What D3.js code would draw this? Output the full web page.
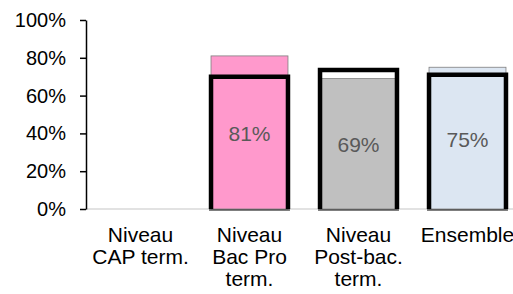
<!DOCTYPE html>
<html>
<head>
<meta charset="utf-8">
<script src="https://cdn.jsdelivr.net/npm/d3@7"></script>
<style>
  body { margin: 0; background: #fff; }
  text { font-family: "Liberation Sans", Arial, sans-serif; }
</style>
</head>
<body>
<div id="chart"></div>
<script>
// data
var categories = ["Niveau CAP term.", "Niveau Bac Pro term.", "Niveau Post-bac. term.", "Ensemble"];
var categoryLines = [["Niveau", "CAP term."], ["Niveau", "Bac Pro", "term."], ["Niveau", "Post-bac.", "term."], ["Ensemble"]];
var values = [null, 81, 69, 75];
var outlineValues = [null, 70, 73.5, 71];
var barColors = ["none", "#ff99cc", "#c0c0c0", "#dce6f2"];
var yTicks = [0, 20, 40, 60, 80, 100];

var width = 513, height = 294;

var svg = d3.select("#chart").append("svg")
	.attr("width", width)
	.attr("height", height);

var x = d3.scaleBand()
	.domain(categories)
	.range([86, 522])
	.paddingInner(0.294)
	.paddingOuter(0.147);

var y = d3.scaleLinear()
	.domain([0, 100])
	.range([209, 20]);

// baseline
svg.append("line")
	.attr("x1", 86)
	.attr("x2", width)
	.attr("y1", y(0))
	.attr("y2", y(0))
	.attr("stroke", "#d9d9d9")
	.attr("stroke-width", 1.5);

var rows = categories.map(function(c, i){
	return {cat: c, v: values[i], o: outlineValues[i], color: barColors[i], lines: categoryLines[i]};
});
var withData = rows.filter(function(d){ return d.v != null; });

// filled bars
svg.selectAll("rect.bar")
	.data(withData)
	.enter().append("rect")
	.attr("class", "bar")
	.attr("x", function(d){ return x(d.cat); })
	.attr("y", function(d){ return y(d.v); })
	.attr("width", x.bandwidth())
	.attr("height", function(d){ return y(0) - y(d.v); })
	.attr("fill", function(d){ return d.color; })
	.attr("stroke", "#7f7f7f")
	.attr("stroke-width", 0.8);

// bar labels
svg.selectAll("text.val")
	.data(withData)
	.enter().append("text")
	.attr("class", "val")
	.attr("x", function(d){ return x(d.cat) + x.bandwidth() / 2; })
	.attr("y", function(d){ return (y(0) + y(d.v)) / 2; })
	.attr("dy", "0.4em")
	.attr("text-anchor", "middle")
	.attr("font-size", "21px")
	.attr("fill", "#595959")
	.text(function(d){ return d.v + "%"; });

// thick outline bars
svg.selectAll("path.outline")
	.data(withData)
	.enter().append("path")
	.attr("class", "outline")
	.attr("d", function(d){
		var x0 = x(d.cat), x1 = x0 + x.bandwidth();
		return "M" + x0 + "," + y(0) + "V" + y(d.o) + "H" + x1 + "V" + y(0);
	})
	.attr("fill", "none")
	.attr("stroke", "#000")
	.attr("stroke-width", 4.5);

svg.selectAll("line.outline-bottom")
	.data(withData)
	.enter().append("line")
	.attr("class", "outline-bottom")
	.attr("x1", function(d){ return x(d.cat) - 2; })
	.attr("x2", function(d){ return x(d.cat) + x.bandwidth() + 2; })
	.attr("y1", y(0) + 1)
	.attr("y2", y(0) + 1)
	.attr("stroke", "#000")
	.attr("stroke-width", 1);

// y axis
var yAxis = svg.append("g")
	.attr("transform", "translate(86,0)")
	.call(d3.axisLeft(y).tickValues(yTicks).tickSize(6).tickSizeOuter(0).tickPadding(14)
		.tickFormat(function(d){ return d + "%"; }));
yAxis.select(".domain").attr("stroke", "#000").attr("stroke-width", 1.5);
yAxis.selectAll(".tick line").attr("stroke", "#000").attr("stroke-width", 1.5);
yAxis.selectAll(".tick text")
	.attr("font-size", "20px")
	.attr("font-family", "Liberation Sans, Arial, sans-serif")
	.attr("fill", "#000");

// category labels
var labels = svg.selectAll("text.cat")
	.data(rows)
	.enter().append("text")
	.attr("class", "cat")
	.attr("text-anchor", "middle")
	.attr("font-size", "21px")
	.attr("fill", "#000");

labels.selectAll("tspan")
	.data(function(d){ return d.lines.map(function(l){ return {t: l, cx: x(d.cat) + x.bandwidth() / 2}; }); })
	.enter().append("tspan")
	.attr("x", function(d){ return d.cx; })
	.attr("y", function(d, i){ return 241.5 + i * 22; })
	.text(function(d){ return d.t; });
</script>
</body>
</html>
